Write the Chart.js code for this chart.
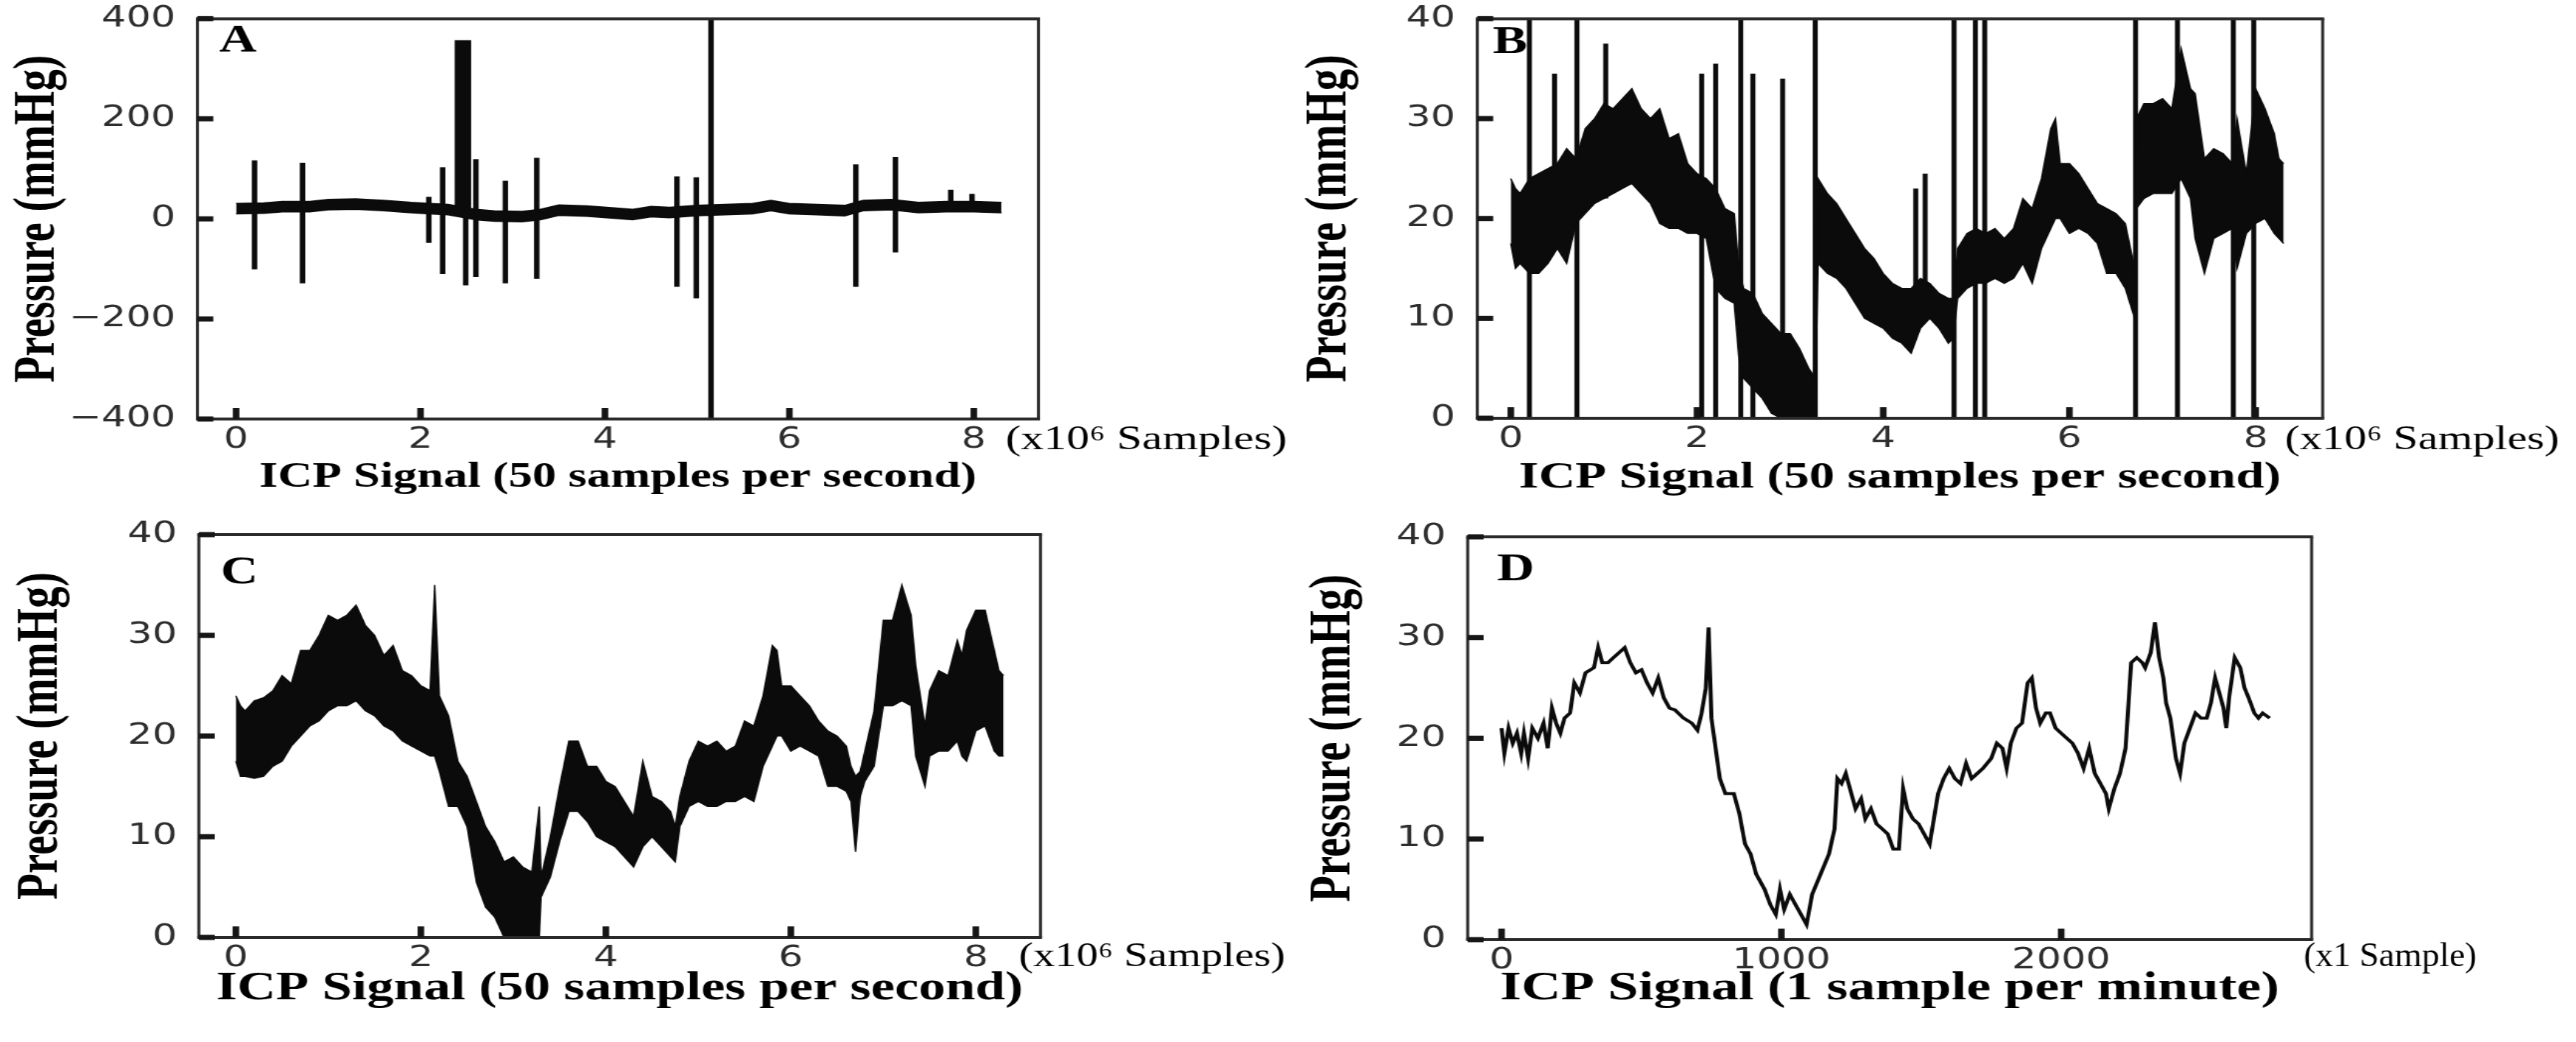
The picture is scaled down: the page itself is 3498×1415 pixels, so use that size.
<!DOCTYPE html>
<html><head><meta charset="utf-8">
<script src="https://cdn.jsdelivr.net/npm/chart.js@4.4.0/dist/chart.umd.min.js"></script>
<style>
html,body{margin:0;padding:0;background:#fff;width:3498px;height:1415px;overflow:hidden;position:relative;}
canvas{position:absolute;transform-origin:0 0;}
</style></head><body>
<canvas id="cA"></canvas><canvas id="cB"></canvas><canvas id="cC"></canvas><canvas id="cD"></canvas>
<script>
// ---------- tick values ----------
const xTicksMega = [0, 2, 4, 6, 8];
const xTicksD = [0, 1000, 2000];
const yTicksA = [-400, -200, 0, 200, 400];
const yTicksBCD = [0, 10, 20, 30, 40];

// ---------- Panel A : raw signal envelope (x10^6 samples, mmHg) ----------
const aX   = [0,0.3,0.5,0.8,1.0,1.3,1.6,1.9,2.1,2.3,2.6,2.8,3.1,3.3,3.5,3.8,4.1,4.3,4.5,4.7,5.0,5.3,5.6,5.8,6.0,6.3,6.6,6.8,7.1,7.4,7.7,8.0,8.3];
const aTop = [31,32,35,35,39,40,37,33,31,29,19,16,15,19,28,26,22,19,25,23,27,29,31,37,31,29,27,37,39,33,35,35,33];
const aBot = [10,11,14,14,18,19,16,12,10,8,-2,-5,-6,-2,7,5,1,-2,4,2,6,8,10,16,10,8,6,16,18,12,14,14,12];
// Panel A artefact spikes
const aSpX   = [0.2,0.72,2.09,2.24,2.40,2.43,2.46,2.49,2.52,2.6,2.92,3.26,4.78,4.99,5.15,6.72,7.15,7.75,7.98];
const aSpTop = [117,112,44,103,357,357,357,357,357,119,76,122,85,83,400,109,124,58,50];
const aSpBot = [-101,-129,-48,-110,15,15,15,-133,15,-116,-129,-120,-136,-159,-397,-136,-67,18,18];

// ---------- Panel B : envelope zoomed to 0-40 mmHg ----------
const bX   = [0,0.05,0.1,0.2,0.3,0.4,0.5,0.6,0.7,0.8,0.9,1.0,1.1,1.2,1.3,1.4,1.5,1.6,1.7,1.8,1.9,2.0,2.1,2.2,2.3,2.4,2.45,2.5,2.6,2.7,2.8,2.9,3.0,3.1,3.2,3.27,3.3,3.4,3.5,3.6,3.7,3.8,3.9,4.0,4.1,4.2,4.3,4.4,4.5,4.6,4.7,4.75,4.8,4.9,5.0,5.1,5.2,5.3,5.4,5.5,5.6,5.7,5.8,5.85,5.9,6.0,6.1,6.2,6.3,6.4,6.5,6.6,6.7,6.72,6.8,6.9,7.0,7.1,7.2,7.3,7.35,7.45,7.55,7.65,7.75,7.8,7.9,8.0,8.1,8.2,8.25,8.3];
const bTop = [24,23,22.5,24,24.5,25,25.5,27,26,29,30,31.5,31,32,33,31,30,31,28,28.5,25.5,24.5,24,23,21,20.5,15,13,12.5,10.5,9.5,8.5,8.5,7,5,4,24,22.5,21.5,20,18.5,17,16,14.5,13.5,13,13,14,13.5,12.5,12,12,17,18.5,19,18.5,19,18,19,22,21,24,29,30,25.5,25.5,24.5,23,21.5,21,20.5,19.5,15,30,31.5,31.5,32,31,37,33,32.5,26,27,26.5,25.5,30,24.5,33,31,28.5,26,25.5];
const bBot = [17.5,15,15.5,14.5,14.5,15.5,17,15.5,19.5,20.5,21.5,22,22.5,23,23.5,22.5,21.5,19.5,19,19,18.5,18.5,18,13,12,11.5,6,4,3,2,0.5,0,0,0,0,0,15.5,14.5,14,13,11.5,10,9.5,9,8,7.5,6.5,9,10,9,7.5,8,12,13,13.5,13.5,14,13.5,14,15.5,13.5,17,19,20,20,18.5,19,18.5,17.5,14.5,14.5,13,10,21,22,22.5,22.5,22.5,24,22,18,14.5,18,18.5,19,15,18.5,19.5,20,18.5,18,17.5];
// Panel B artefact spikes
const bSpX   = [0.2,0.47,0.71,1.02,2.05,2.2,2.47,2.6,2.92,3.27,4.35,4.45,4.76,4.99,5.09,6.71,7.16,7.76,7.98];
const bSpTop = [40,34.5,40,37.5,34.5,35.5,40,34.5,34,40,23,24.5,40,40,40,40,40,40,40];
const bSpBot = [0,20,0,22,0,0,0,0,0,0,10,10,0,0,0,0,0,0,0];

// ---------- Panel C : cleaned signal envelope ----------
const cX   = [0,0.05,0.1,0.2,0.3,0.4,0.5,0.6,0.7,0.8,0.9,1.0,1.1,1.2,1.3,1.4,1.5,1.6,1.7,1.8,1.9,2.0,2.1,2.15,2.2,2.3,2.4,2.5,2.6,2.7,2.8,2.9,3.0,3.1,3.2,3.28,3.3,3.4,3.5,3.6,3.7,3.8,3.9,4.0,4.1,4.2,4.3,4.4,4.5,4.6,4.7,4.75,4.8,4.9,5.0,5.1,5.2,5.3,5.4,5.5,5.6,5.7,5.8,5.85,5.9,6.0,6.1,6.2,6.3,6.4,6.5,6.6,6.65,6.7,6.75,6.8,6.9,7.0,7.1,7.2,7.3,7.35,7.45,7.5,7.6,7.7,7.8,7.85,7.9,8.0,8.1,8.2,8.25,8.3];
const cTop = [24,23,22.5,23.5,23.8,24.5,26,25.2,28.5,28.5,30,32,31.5,32,33,31,30,28,29,26.5,26,25,24.5,35,24,22,17.5,16,13.5,11,9.5,7.5,8,7,6.5,13,6,10,15,19.5,19.5,17,17,15.5,15,13.5,12,17.5,14,13.5,12.5,11,14,17.5,19.5,19,19.5,18.5,19,21.5,21,24,29,28.5,25,25,24,23,21.5,20.5,20,19,17,16,16.5,18.5,22.5,31.5,31.5,35,32,27,21,24.5,26.5,26,29.5,28,30.5,32.5,32.5,28.5,26.5,26];
const cBot = [17.5,16,16,15.8,16,17,17.5,19,20,21,21.5,22.5,23,23,23.5,22.5,22,21,20.5,19.5,19,18.5,18,18,16.5,13,13,11,5.5,3,2,0,0,0,0,0,4,6,9.5,12.5,12.5,11.5,10,9.5,9,8,7,9,10,9,8,7.5,11,13,13.5,13,13,13.5,13.5,14,13.5,17,19,20,20,18.5,19,18.5,18,15,15,14.5,13.5,8.5,14,15.5,17,23,23,23.5,23,18,15,18,18.5,18.5,19.5,18,17.5,20.5,21,18.5,18,18];

// ---------- Panel D : 1 sample per minute ----------
const dX = [0,10,25,40,55,70,80,95,110,130,150,165,180,195,210,225,245,260,280,300,330,345,360,380,400,420,440,460,480,500,520,540,560,580,600,620,650,680,700,715,730,740,750,760,780,800,830,850,870,890,910,940,960,980,995,1010,1030,1050,1070,1090,1110,1140,1170,1190,1200,1215,1230,1250,1265,1285,1300,1320,1340,1360,1380,1400,1420,1435,1450,1470,1490,1510,1530,1545,1560,1580,1600,1620,1640,1660,1680,1700,1720,1750,1770,1790,1805,1820,1840,1860,1880,1895,1910,1925,1945,1960,1980,2000,2020,2040,2060,2080,2100,2120,2140,2160,2170,2190,2210,2230,2250,2270,2290,2300,2320,2335,2350,2365,2375,2390,2410,2425,2440,2460,2480,2500,2520,2535,2550,2565,2580,2590,2600,2620,2640,2655,2670,2690,2705,2720,2745];
const dY = [21,18.5,21,19.5,20.5,18.5,20.5,18,21,20,21.5,19,23,21.5,20.5,22,22.5,25.5,24.5,26.5,27,29,27.5,27.5,28,28.5,29,27.5,26.5,26.8,25.5,24.5,26,24,23,22.8,22,21.5,20.8,22.5,25,31,22,20,16,14.5,14.5,12.5,9.5,8.5,6.5,5,3.5,2.5,5,3,4.5,3.5,2.5,1.5,4.5,6.5,8.5,11,16,15.5,16.5,14.5,13,14,12,13,11.5,11,10.5,9,9,15,13,12,11.5,10.5,9.5,12,14.5,16,17,16,15.5,17.5,16,16.5,17,18,19.5,19,17,19.5,21,21.5,25.5,26,23,21.5,22.5,22.5,21,20.5,20,19.5,18.5,17,19,16.5,15.5,14.5,13,15,16.5,19,27.5,28,27.5,27,28.5,31.5,28,26,23.5,22,18,16.5,19.5,21,22.5,22,22,23.5,26,24.5,23,21,24,28,27,25,24,22.5,22,22.5,22];

// ---------- helpers ----------
const S = 1.35;           // horizontal stretch of the whole figure
const INK = '#0b0b0b';
const fmtTick = v => (v < 0 ? '\u2212' + Math.abs(v) : String(v));
const pts = (xs, ys) => xs.map((x, i) => ({x: x, y: ys[i]}));
function spikes(xs, tops, bots, w) {
  const d = [];
  xs.forEach((x, i) => { d.push({x: x, y: tops[i]}, {x: x, y: bots[i]}, {x: x, y: null}); });
  return {data: d, borderColor: INK, borderWidth: w, fill: false, spanGaps: false, pointRadius: 0};
}
function band(xs, tops, bots, w) {
  return [
    {data: pts(xs, tops), borderColor: INK, backgroundColor: INK, borderWidth: w, fill: '+1', pointRadius: 0},
    {data: pts(xs, bots), borderColor: INK, backgroundColor: INK, borderWidth: w, fill: false, pointRadius: 0}
  ];
}

const decorPlugin = {
  id: 'decor',
  afterDraw(chart, args, o) {
    const ctx = chart.ctx, a = chart.chartArea, xs = chart.scales.x, ys = chart.scales.y;
    ctx.save();
    ctx.strokeStyle = '#2a2a2a';
    ctx.lineWidth = 4;
    ctx.beginPath(); ctx.moveTo(a.left - 1.5, a.top); ctx.lineTo(a.right + 1.5, a.top);
    ctx.moveTo(a.left - 1.5, a.bottom); ctx.lineTo(a.right + 1.5, a.bottom); ctx.stroke();
    ctx.lineWidth = 3;
    ctx.beginPath(); ctx.moveTo(a.left, a.top); ctx.lineTo(a.left, a.bottom);
    ctx.moveTo(a.right, a.top); ctx.lineTo(a.right, a.bottom); ctx.stroke();
    ctx.fillStyle = '#161616';
    ys.ticks.forEach(t => { const y = ys.getPixelForValue(t.value); ctx.fillRect(a.left, y - 3.5, 16, 7); });
    xs.ticks.forEach(t => { const x = xs.getPixelForValue(t.value); ctx.fillRect(x - 3.3, a.bottom - 15, 6.6, 15); });
    // panel letter
    ctx.fillStyle = '#000';
    ctx.textBaseline = 'alphabetic'; ctx.textAlign = 'left';
    ctx.font = 'bold 52px "Liberation Serif"';
    ctx.fillText(o.letter, a.left + o.ldx, a.top + o.ldy);
    // unit label
    ctx.font = o.uSize + 'px "Liberation Serif"';
    const w = ctx.measureText(o.unit).width;
    ctx.save(); ctx.translate(a.right + o.udx, a.bottom + o.udy); ctx.scale(o.uw / w, 1); ctx.fillText(o.unit, 0, 0); ctx.restore();
    ctx.restore();
  }
};

// g: target geometry in page pixels
function panel(id, g, datasets, xr, xt, yr, yt, xTitle, deco) {
  const cv = document.getElementById(id);
  const w = Math.round(g.W / S), h = g.H;
  const yTitleSize = 59, xTitleSize = g.xts;
  const pl = (g.yTitleX - g.L) / S - yTitleSize * 0.6;
  const yw = (g.left - g.L) / S - pl;
  const pr = w - (g.right - g.L) / S;
  const pt = g.top - g.T;
  const xh = h - (g.bottom - g.T);
  const tb = h - (g.xTitleY - g.T) - xTitleSize * 0.6;
  cv.width = w; cv.height = h;
  cv.style.left = g.L + 'px'; cv.style.top = g.T + 'px';
  cv.style.width = w + 'px'; cv.style.height = h + 'px';
  cv.style.transform = 'scaleX(' + S + ')';
  const tickFont = {family: '"DejaVu Sans"', size: 39};
  return new Chart(cv, {
    type: 'line',
    data: {datasets: datasets},
    options: {
      responsive: false, animation: false, devicePixelRatio: 1,
      layout: {padding: {left: pl, top: pt, right: pr, bottom: 0}},
      plugins: {legend: {display: false}, tooltip: {enabled: false}, decor: deco},
      elements: {point: {radius: 0}, line: {tension: 0}},
      scales: {
        x: {
          type: 'linear', min: xr[0], max: xr[1],
          grid: {display: false, drawTicks: false}, border: {display: false},
          afterBuildTicks: s => { s.ticks = xt.map(v => ({value: v})); },
          afterFit: s => { s.height = xh; },
          ticks: {padding: 5, font: tickFont, color: '#2d2d2d', autoSkip: false, maxRotation: 0, callback: fmtTick},
          title: {display: true, text: xTitle, font: {family: '"Liberation Serif"', weight: 'bold', size: xTitleSize}, color: '#000', padding: {top: 0, bottom: tb}}
        },
        y: {
          type: 'linear', min: yr[0], max: yr[1],
          grid: {display: false, drawTicks: false}, border: {display: false},
          afterBuildTicks: s => { s.ticks = yt.map(v => ({value: v})); },
          afterFit: s => { s.width = yw; },
          ticks: {padding: 22, font: tickFont, color: '#2d2d2d', autoSkip: false, callback: fmtTick},
          title: {display: true, text: 'Pressure (mmHg)', font: {family: '"Liberation Serif"', weight: 'bold', size: yTitleSize}, color: '#000', padding: {top: 0, bottom: 0}}
        }
      }
    },
    plugins: [decorPlugin]
  });
}

const T50 = 'ICP Signal (50 samples per second)';
const T1 = 'ICP Signal (1 sample per minute)';
const UNIT6 = '(x10\u2076 Samples)';

panel('cA', {L: 0, T: -20, W: 1750, H: 730, left: 268, right: 1410, top: 22, bottom: 569, yTitleX: 52, xTitleY: 649, xts: 48},
  band(aX, aTop, aBot, 1.5).concat([spikes(aSpX, aSpTop, aSpBot, 5.5)]),
  [-0.42, 8.70], xTicksMega, [-400, 400], yTicksA, T50,
  {letter: 'A', ldx: 22, ldy: 45, unit: UNIT6, uSize: 46, udx: -33, udy: 41, uw: 283});

panel('cB', {L: 1750, T: -20, W: 1748, H: 730, left: 2006, right: 3154, top: 20, bottom: 568, yTitleX: 1806, xTitleY: 649, xts: 51},
  band(bX, bTop, bBot, 1.5).concat([spikes(bSpX, bSpTop, bSpBot, 5)]),
  [-0.36, 8.72], xTicksMega, [0, 40], yTicksBCD, T50,
  {letter: 'B', ldx: 15.6, ldy: 47, unit: UNIT6, uSize: 46, udx: -38, udy: 42, uw: 276});

panel('cC', {L: 0, T: 680, W: 1750, H: 735, left: 270, right: 1413, top: 726, bottom: 1273, yTitleX: 56, xTitleY: 1343, xts: 54},
  band(cX, cTop, cBot, 1.5),
  [-0.40, 8.70], xTicksMega, [0, 40], yTicksBCD, T50,
  {letter: 'C', ldx: 22, ldy: 66, unit: UNIT6, uSize: 46, udx: -22, udy: 39, uw: 268});

panel('cD', {L: 1750, T: 680, W: 1748, H: 735, left: 1993, right: 3139, top: 729, bottom: 1276, yTitleX: 1812, xTitleY: 1343, xts: 55},
  [{data: pts(dX, dY), borderColor: INK, borderWidth: 4, fill: false, pointRadius: 0}],
  [-121, 2895], xTicksD, [0, 40], yTicksBCD, T1,
  {letter: 'D', ldx: 29.6, ldy: 59, unit: '(x1 Sample)', uSize: 46, udx: -8, udy: 36, uw: 174});
</script>
</body></html>
